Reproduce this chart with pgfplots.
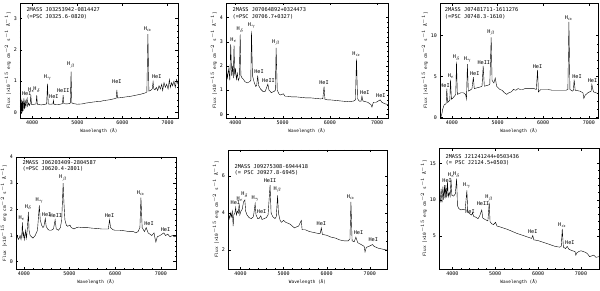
\documentclass[border=0pt]{standalone}
\usepackage{fontspec}
\setmainfont{DejaVu Sans Mono}
\usepackage{pgfplots}
\pgfplotsset{compat=1.18}
\pgfplotsset{spec/.style={
  scale only axis,
  axis line style={line width=0.45pt},
  every tick/.style={line width=0.35pt, black},
  major tick length=2.5pt, minor tick length=1.3pt,
  tick align=inside, xtick pos=both, ytick pos=both,
  minor x tick num=4,
  xtick={4000,5000,6000,7000},
  tick label style={font=\fontsize{5}{5.5}\selectfont},
  scaled ticks=false,
  /pgf/number format/1000 sep={},
  /pgf/number format/assume math mode=true,
  xlabel={Wavelength (Å)},
  ylabel={Flux [×10$^{-15}$ erg cm$^{-2}$ s$^{-1}$ Å$^{-1}$]},
  label style={font=\fontsize{4.4}{5}\selectfont},
  xlabel style={yshift=3pt},
  ylabel style={yshift=-4pt},
  xticklabel style={yshift=0.5pt},
  yticklabel style={xshift=0.5pt},
  cycle list={{black, line width=0.5pt}},
  every axis plot/.append style={no marks},
  clip=true,
}}
\tikzset{ln/.style={font=\fontsize{5.2}{5.5}\selectfont, inner sep=0.5pt, anchor=south},
         idlab/.style={font=\fontsize{5.3}{6.3}\selectfont, anchor=north west, align=left, inner sep=0pt}}
\newcommand{\Hl}[1]{H$_{\scriptscriptstyle\mathrm{#1}}$}
\begin{document}
\begin{tikzpicture}
% ---------- Panel 1
\begin{axis}[spec, at={(20pt,172pt)}, anchor=south west, width=158pt, height=115pt,
  xmin=3730, xmax=7230, ymin=-0.18, ymax=3.5, ytick={0,1,2,3}, minor y tick num=4]
\addplot coordinates {(3740,0.1)(3750,0.45)(3760,-0.05)(3770,0.4)(3780,0.0)(3790,0.35)(3800,0.05)(3815,0.45)(3830,0.1)(3845,0.4)(3860,0.15)(3875,0.38)(3889,0.45)(3900,0.2)(3920,0.3)(3940,0.22)(3955,0.28)(3970,0.55)(3985,0.25)(4010,0.25)(4050,0.26)(4085,0.27)(4101,0.55)(4115,0.26)(4150,0.25)(4200,0.24)(4260,0.25)(4320,0.27)(4340,0.92)(4355,0.27)(4400,0.26)(4460,0.27)(4471,0.38)(4482,0.26)(4550,0.25)(4620,0.26)(4670,0.28)(4686,0.55)(4700,0.28)(4760,0.27)(4820,0.28)(4845,0.3)(4861,1.3)(4878,0.3)(4920,0.28)(5000,0.26)(5100,0.27)(5200,0.3)(5300,0.32)(5400,0.34)(5500,0.35)(5600,0.38)(5700,0.4)(5800,0.43)(5860,0.45)(5876,0.72)(5890,0.46)(5950,0.47)(6000,0.48)(6100,0.5)(6200,0.52)(6300,0.55)(6400,0.58)(6500,0.62)(6540,0.65)(6563,2.5)(6585,0.68)(6620,0.7)(6660,0.75)(6678,0.98)(6695,0.75)(6720,0.72)(6750,0.8)(6780,0.7)(6810,0.85)(6840,0.75)(6870,0.9)(6890,0.7)(6920,0.95)(6950,0.8)(6980,0.9)(7010,0.75)(7040,1.05)(7060,0.8)(7090,0.95)(7110,0.85)(7140,1.0)(7170,0.8)(7200,1.05)(7230,0.9)};
\node[idlab] at (rel axis cs:0.04,0.96) {2MASS J03253942-0814427\\(=PSC J0325.6-0820)};
\node[ln] at (axis cs:3880,0.5) {HeI};
\node[ln] at (axis cs:3985,0.62) {\Hl{\epsilon}};
\node[ln] at (axis cs:4105,0.62) {\Hl{\delta}};
\node[ln] at (axis cs:4345,1.0) {\Hl{\gamma}};
\node[ln] at (axis cs:4480,0.42) {HeI};
\node[ln] at (axis cs:4690,0.62) {HeII};
\node[ln] at (axis cs:4861,1.38) {\Hl{\beta}};
\node[ln] at (axis cs:5876,0.9) {HeI};
\node[ln] at (axis cs:6563,2.58) {\Hl{\alpha}};
\node[ln] at (axis cs:6760,1.05) {HeI};
\end{axis}
% ---------- Panel 2
\begin{axis}[spec, at={(226pt,172pt)}, anchor=south west, width=162pt, height=115pt,
  xmin=3800, xmax=7230, ymin=-0.15, ymax=4.6, ytick={0,1,2,3,4}, minor y tick num=4]
\addplot coordinates {(3800,2.2)(3830,1.5)(3860,1.9)(3880,1.4)(3900,2.9)(3920,1.6)(3940,2.0)(3955,1.5)(3970,2.85)(3985,1.6)(4000,1.9)(4020,1.45)(4040,1.7)(4060,1.4)(4080,1.5)(4101,3.3)(4115,1.6)(4140,1.5)(4170,1.45)(4200,1.35)(4250,1.3)(4300,1.35)(4325,1.4)(4340,3.45)(4360,1.6)(4400,1.3)(4430,1.15)(4450,1.2)(4471,1.6)(4490,1.2)(4530,1.05)(4580,0.95)(4630,0.95)(4686,1.25)(4710,1.0)(4760,0.9)(4820,0.95)(4845,1.0)(4861,2.75)(4885,1.0)(4920,0.85)(4950,0.8)(5015,0.85)(5050,0.75)(5100,0.75)(5200,0.72)(5300,0.72)(5400,0.7)(5500,0.68)(5600,0.68)(5700,0.66)(5800,0.64)(5850,0.65)(5876,1.15)(5895,0.62)(5950,0.6)(6000,0.6)(6100,0.58)(6200,0.56)(6300,0.54)(6400,0.52)(6500,0.55)(6540,0.6)(6563,2.3)(6585,0.65)(6620,0.55)(6660,0.55)(6678,0.75)(6700,0.55)(6800,0.5)(6870,0.4)(6890,0.3)(6920,0.5)(6980,0.5)(7065,0.6)(7100,0.5)(7150,0.45)(7230,0.4)};
\node[idlab] at (rel axis cs:0.04,0.96) {2MASS J07064892+0324473\\(=PSC J0706.7+0327)};
\node[ln] at (axis cs:3965,2.95) {\Hl{\epsilon}};
\node[ln] at (axis cs:4101,3.35) {\Hl{\delta}};
\node[ln] at (axis cs:4345,3.5) {\Hl{\gamma}};
\node[ln] at (axis cs:4500,1.65) {HeI};
\node[ln] at (axis cs:4700,1.3) {HeII};
\node[ln] at (axis cs:4861,2.8) {\Hl{\beta}};
\node[ln] at (axis cs:5876,1.2) {HeI};
\node[ln] at (axis cs:6563,2.35) {\Hl{\alpha}};
\node[ln] at (axis cs:6740,0.8) {HeI};
\node[ln] at (axis cs:7080,0.65) {HeI};
\end{axis}
% ---------- Panel 3
\begin{axis}[spec, at={(440pt,172pt)}, anchor=south west, width=158pt, height=115pt,
  xmin=3740, xmax=7200, ymin=-0.1, ymax=14, ytick={0,5,10}, minor y tick num=4]
\addplot coordinates {(3740,0.3)(3760,0.0)(3780,0.4)(3800,1.0)(3830,1.5)(3860,1.6)(3875,1.7)(3889,3.5)(3905,1.8)(3940,2.0)(3955,2.1)(3970,4.6)(3990,2.2)(4030,2.4)(4060,2.6)(4085,2.8)(4101,6.8)(4120,2.8)(4160,2.9)(4200,3.0)(4250,3.0)(4300,2.8)(4320,2.2)(4340,6.5)(4360,3.2)(4400,3.3)(4440,3.5)(4471,4.9)(4490,3.5)(4550,3.6)(4620,3.7)(4660,3.8)(4686,6.3)(4710,3.8)(4780,3.9)(4830,4.0)(4861,9.8)(4880,4.5)(4920,4.2)(4950,4.8)(4980,3.8)(5050,3.4)(5100,3.3)(5150,3.0)(5200,2.8)(5250,3.0)(5300,3.1)(5350,3.4)(5400,3.3)(5450,3.5)(5500,3.4)(5550,3.4)(5600,3.5)(5700,3.5)(5800,3.5)(5850,3.4)(5876,5.8)(5895,3.1)(5950,3.4)(6000,3.4)(6100,3.4)(6200,3.3)(6300,3.3)(6400,3.3)(6500,3.3)(6540,3.4)(6563,11.7)(6585,3.4)(6640,3.2)(6660,3.3)(6678,4.6)(6700,3.3)(6800,3.2)(6870,3.0)(6890,2.3)(6920,2.7)(6980,3.0)(7050,3.2)(7065,4.0)(7100,3.1)(7150,3.0)(7200,2.9)};
\node[idlab] at (rel axis cs:0.03,0.96) {2MASS J07481711-1611276\\(=PSC J0748.3-1610)};
\node[ln] at (axis cs:3850,3.6) {HeI};
\node[ln] at (axis cs:3985,4.7) {\Hl{\epsilon}};
\node[ln] at (axis cs:4101,6.9) {\Hl{\delta}};
\node[ln] at (axis cs:4345,6.6) {\Hl{\gamma}};
\node[ln] at (axis cs:4500,5.0) {HeI};
\node[ln] at (axis cs:4700,6.4) {HeII};
\node[ln] at (axis cs:4861,9.9) {\Hl{\beta}};
\node[ln] at (axis cs:5876,5.9) {HeI};
\node[ln] at (axis cs:6563,11.8) {\Hl{\alpha}};
\node[ln] at (axis cs:6740,4.7) {HeI};
\node[ln] at (axis cs:7080,4.1) {HeI};
\end{axis}
% ---------- Panel 4
\begin{axis}[spec, at={(16pt,21pt)}, anchor=south west, width=160pt, height=112pt,
  xmin=3830, xmax=7330, ymin=-0.28, ymax=4, ytick={0,1,2,3,4}, minor y tick num=4]
\addplot coordinates {(3840,0.85)(3860,1.0)(3880,0.85)(3900,0.9)(3920,1.0)(3940,0.85)(3960,1.1)(3970,1.5)(3985,0.9)(4000,1.1)(4020,0.85)(4040,1.2)(4060,0.9)(4080,1.3)(4101,1.9)(4115,1.2)(4140,1.0)(4170,0.95)(4200,0.9)(4250,1.0)(4300,1.2)(4340,2.15)(4360,1.6)(4390,1.4)(4420,1.3)(4440,1.35)(4471,1.65)(4490,1.35)(4520,1.25)(4560,1.2)(4600,1.2)(4650,1.25)(4686,1.6)(4710,1.25)(4760,1.2)(4800,1.3)(4830,1.6)(4861,3.0)(4880,2.2)(4900,1.6)(4930,1.4)(4960,1.35)(5010,1.4)(5040,1.3)(5100,1.25)(5150,1.3)(5200,1.32)(5300,1.3)(5400,1.3)(5500,1.28)(5600,1.27)(5700,1.25)(5800,1.25)(5850,1.25)(5876,1.6)(5900,1.3)(5950,1.22)(6000,1.2)(6100,1.2)(6200,1.18)(6300,1.15)(6400,1.15)(6450,1.1)(6500,1.15)(6540,1.3)(6563,2.45)(6590,1.3)(6640,1.15)(6678,1.3)(6720,1.1)(6800,1.0)(6850,1.1)(6870,0.9)(6890,0.75)(6920,0.95)(6980,1.0)(7065,1.1)(7100,1.0)(7150,1.05)(7200,0.95)(7250,1.0)(7300,0.95)(7330,0.98)};
\node[idlab] at (rel axis cs:0.04,0.97) {2MASS J06203409-2804587\\(=PSC J0620.4-2801)};
\node[ln] at (axis cs:3960,1.55) {\Hl{\epsilon}};
\node[ln] at (axis cs:4101,1.95) {\Hl{\delta}};
\node[ln] at (axis cs:4345,2.2) {\Hl{\gamma}};
\node[ln] at (axis cs:4500,1.7) {HeI};
\node[ln] at (axis cs:4700,1.65) {HeII};
\node[ln] at (axis cs:4861,3.05) {\Hl{\beta}};
\node[ln] at (axis cs:5876,1.65) {HeI};
\node[ln] at (axis cs:6563,2.5) {\Hl{\alpha}};
\node[ln] at (axis cs:6740,1.35) {HeI};
\node[ln] at (axis cs:7100,1.12) {HeI};
\end{axis}
% ---------- Panel 5
\begin{axis}[spec, at={(228pt,21pt)}, anchor=south west, width=159pt, height=119pt,
  xmin=3710, xmax=7400, ymin=0.98, ymax=7.4, ytick={2,4,6}, minor y tick num=3]
\addplot coordinates {(3710,3.8)(3730,3.9)(3750,3.7)(3770,4.0)(3790,3.8)(3810,4.1)(3830,3.3)(3845,3.9)(3870,4.0)(3889,4.3)(3905,3.9)(3930,4.1)(3950,4.0)(3970,4.5)(3985,3.9)(4010,4.1)(4040,4.2)(4070,4.6)(4101,4.7)(4120,4.1)(4150,3.9)(4200,3.75)(4250,3.7)(4300,3.8)(4340,4.5)(4360,3.9)(4400,3.7)(4430,3.7)(4471,3.85)(4500,3.65)(4550,3.7)(4600,3.75)(4640,3.9)(4686,5.5)(4710,4.0)(4750,3.8)(4800,3.7)(4830,3.8)(4861,4.95)(4880,4.0)(4920,3.6)(4950,3.5)(5000,3.6)(5050,3.5)(5100,3.45)(5150,3.4)(5200,3.3)(5250,3.2)(5300,3.25)(5350,3.3)(5411,3.6)(5430,3.1)(5500,3.1)(5600,3.0)(5700,2.95)(5800,2.9)(5850,2.9)(5876,3.2)(5900,2.85)(6000,2.8)(6100,2.7)(6200,2.65)(6300,2.55)(6400,2.5)(6500,2.5)(6540,2.6)(6563,4.6)(6590,2.5)(6640,2.45)(6678,2.7)(6720,2.4)(6800,2.3)(6870,2.2)(6890,1.9)(6920,2.15)(6980,2.2)(7065,2.3)(7100,2.2)(7200,2.1)(7300,2.05)(7400,2.0)};
\node[idlab] at (rel axis cs:0.04,0.88) {2MASS J09275308-6944418\\(= PSC J0927.8-6945)};
\node[ln] at (axis cs:3880,4.4) {HeI};
\node[ln] at (axis cs:3990,4.6) {\Hl{\epsilon}};
\node[ln] at (axis cs:4101,4.8) {\Hl{\delta}};
\node[ln] at (axis cs:4345,4.6) {\Hl{\gamma}};
\node[ln] at (axis cs:4490,3.95) {HeI};
\node[ln] at (axis cs:4686,5.6) {HeII};
\node[ln] at (axis cs:4861,5.05) {\Hl{\beta}};
\node[ln] at (axis cs:5876,3.3) {HeI};
\node[ln] at (axis cs:6563,4.7) {\Hl{\alpha}};
\node[ln] at (axis cs:6740,2.8) {HeI};
\node[ln] at (axis cs:7080,2.4) {HeI};
\end{axis}
% ---------- Panel 6
\begin{axis}[spec, at={(439pt,21pt)}, anchor=south west, width=160pt, height=121pt,
  xmin=3690, xmax=7420, ymin=0.5, ymax=17.1, ytick={5,10,15}, minor y tick num=4]
\addplot coordinates {(3700,10.5)(3720,9.8)(3740,11.5)(3760,9.6)(3780,11.8)(3800,10.0)(3820,12.0)(3835,10.2)(3850,12.0)(3870,10.3)(3889,12.5)(3905,10.4)(3930,11.0)(3950,10.5)(3970,12.8)(3990,10.6)(4030,10.5)(4070,10.8)(4101,12.9)(4120,9.2)(4150,8.8)(4200,8.6)(4250,8.7)(4300,8.6)(4340,11.3)(4360,8.4)(4400,8.1)(4450,7.9)(4471,8.2)(4500,7.7)(4550,7.6)(4600,7.4)(4640,7.8)(4686,8.6)(4710,7.5)(4760,7.3)(4830,7.1)(4861,9.6)(4880,7.0)(4920,6.7)(4960,6.6)(5010,6.9)(5040,6.4)(5100,6.3)(5200,6.1)(5300,5.9)(5400,5.65)(5500,5.4)(5600,5.2)(5700,5.0)(5800,4.8)(5850,4.7)(5876,5.1)(5900,4.5)(6000,4.4)(6100,4.2)(6200,4.0)(6300,3.8)(6400,3.6)(6500,3.5)(6540,3.6)(6563,6.0)(6590,3.5)(6640,3.3)(6678,3.6)(6720,3.2)(6800,3.0)(6860,2.9)(6880,2.4)(6900,2.7)(6950,2.9)(7000,3.0)(7050,2.9)(7100,2.8)(7150,2.6)(7200,2.2)(7250,2.3)(7300,2.4)(7350,2.1)(7420,2.2)};
\node[idlab] at (rel axis cs:0.04,0.95) {2MASS J21241244+0503436\\(= PSC J2124.5+0503)};
\node[ln] at (axis cs:3880,12.3) {HeI};
\node[ln] at (axis cs:3975,12.9) {\Hl{\epsilon}};
\node[ln] at (axis cs:4101,13.0) {\Hl{\delta}};
\node[ln] at (axis cs:4345,11.4) {\Hl{\gamma}};
\node[ln] at (axis cs:4413,8.0) {HeI};
\node[ln] at (axis cs:4716,9.1) {HeII};
\node[ln] at (axis cs:4861,9.7) {\Hl{\beta}};
\node[ln] at (axis cs:5876,5.3) {HeI};
\node[ln] at (axis cs:6563,6.1) {\Hl{\alpha}};
\node[ln] at (axis cs:6740,3.8) {HeI};
\end{axis}
\pgfresetboundingbox
\path[use as bounding box] (0,0) rectangle (600pt,290pt);
\end{tikzpicture}
\end{document}
